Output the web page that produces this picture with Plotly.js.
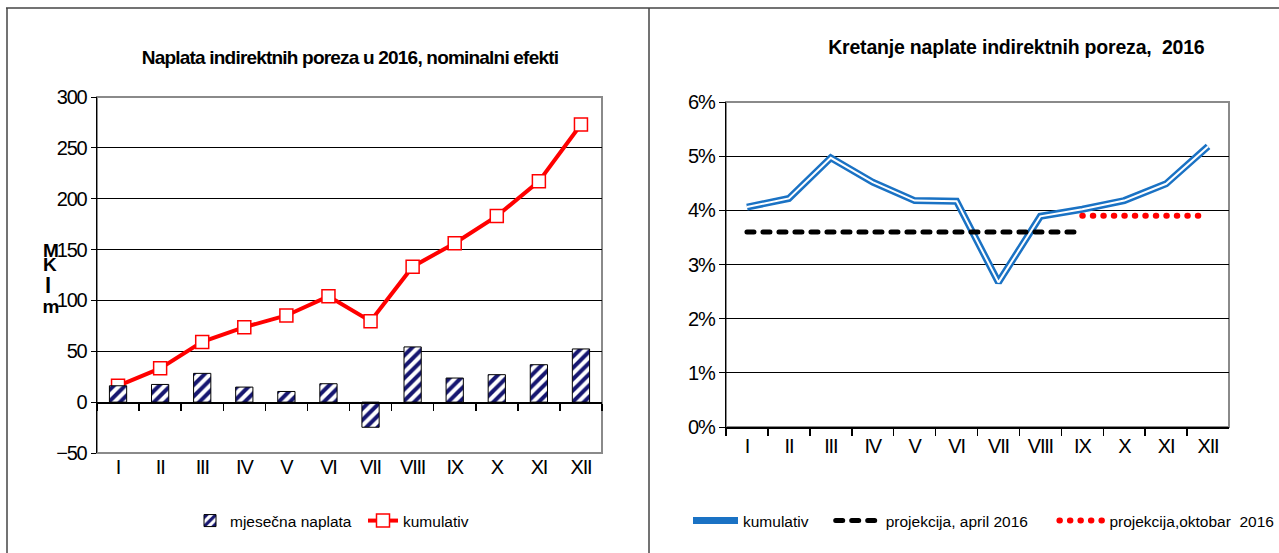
<!DOCTYPE html>
<html>
<head>
<meta charset="utf-8">
<script src="https://cdn.plot.ly/plotly-3.0.1.min.js"></script>
<style>
html,body{margin:0;padding:0;background:#fff;}
#chart{width:1279px;height:553px;}
#chart .xaxislayer-above text, #chart .yaxislayer-above text { letter-spacing: -1.2px; }
#chart .gtitle { letter-spacing: -0.8px; }
#chart .annotation[data-index="0"] text { letter-spacing: -0.2px; }
#chart .annotation[data-index="4"] text { letter-spacing: -1px; }
#chart .subplot.x3y3 .scatterlayer .trace:nth-of-type(3) .js-line,
#chart .subplot.x3y3 .scatterlayer .trace:nth-of-type(4) .js-line { stroke-linecap: round; }
#chart .legend2 .traces:nth-of-type(2) .js-line,
#chart .legend2 .traces:nth-of-type(3) .js-line { stroke-linecap: round; }
</style>
</head>
<body>
<div id="chart"></div>
<script>
// ---- data ----
var months = ["I","II","III","IV","V","VI","VII","VIII","IX","X","XI","XII"];
var monthly = [16.1, 17.4, 28.3, 14.8, 10.5, 18.1, -24.7, 54.3, 23.7, 27.0, 36.8, 52.3];
var cumulative = [16.0, 33.2, 59.2, 73.7, 85.2, 104.0, 79.6, 133.2, 156.3, 182.9, 217.1, 273.0];
var growth = [4.06, 4.22, 4.97, 4.52, 4.18, 4.17, 2.67, 3.89, 4.02, 4.18, 4.49, 5.18];
var projApril = [3.6, 3.6, 3.6, 3.6, 3.6, 3.6, 3.6, 3.6, 3.6, null, null, null];
var projOct = [null, null, null, null, null, null, null, null, 3.9, 3.9, 3.9, 3.9];
var leftTicks = [-50, 0, 50, 100, 150, 200, 250, 300];
var rightTicks = [0, 1, 2, 3, 4, 5, 6];
var rightTickLabels = ["0%", "1%", "2%", "3%", "4%", "5%", "6%"];

var FONT = "'Liberation Sans', Arial, sans-serif";
var W = 1279, H = 553;
function px(x){ return x / W; }
function py(y){ return 1 - y / H; }

var L = {x0: 97, x1: 602, y0: 97, y1: 453};
var R = {x0: 726, x1: 1229, y0: 102, y1: 427};
var leftYDom = [py(L.y1), py(L.y0)];
var zeroPos = leftYDom[0] + (0 - (-50)) / 350 * (leftYDom[1] - leftYDom[0]);
var NB = '\u00a0';

var traces = [
  {
    type: 'bar', x: months, y: monthly, name: 'mjesečna naplata',
    xaxis: 'x2', yaxis: 'y', width: 0.41, legend: 'legend',
    marker: {color: 'white', line: {color: '#000', width: 1},
      pattern: {shape: '/', fgcolor: '#161670', bgcolor: 'white', size: 8, solidity: 0.5}}
  },
  {
    type: 'scatter', mode: 'lines+markers', x: months, y: cumulative, name: 'kumulativ',
    xaxis: 'x', yaxis: 'y', legend: 'legend',
    line: {color: '#ff0000', width: 4},
    marker: {symbol: 'square', size: 13, color: 'white', line: {color: '#ff0000', width: 1.5}}
  },
  {
    type: 'scatter', mode: 'lines', x: months, y: growth, name: 'kumulativ' + NB + NB + NB + NB,
    xaxis: 'x3', yaxis: 'y3', legend: 'legend2',
    line: {color: '#1a72c4', width: 7}
  },
  {
    type: 'scatter', mode: 'lines', x: months, y: growth, name: 'kumulativ_inner',
    xaxis: 'x3', yaxis: 'y3', showlegend: false, hoverinfo: 'skip',
    line: {color: '#ffffff', width: 2}
  },
  {
    type: 'scatter', mode: 'lines', x: months, y: projApril, name: 'projekcija, april 2016' + NB + NB + NB + NB + NB,
    xaxis: 'x3', yaxis: 'y3', legend: 'legend2',
    line: {color: '#000000', width: 5, dash: '7px,9px'}
  },
  {
    type: 'scatter', mode: 'lines', x: months, y: projOct, name: 'projekcija,oktobar' + NB + ' 2016',
    xaxis: 'x3', yaxis: 'y3', legend: 'legend2',
    line: {color: '#ff0000', width: 6, dash: '0.5px,10px'}
  }
];

var tickFont = {family: FONT, size: 20, color: '#000'};

var layout = {
  width: W, height: H, autosize: false,
  margin: {l: 0, r: 0, t: 0, b: 0},
  paper_bgcolor: '#fff', plot_bgcolor: '#fff',
  font: {family: FONT, color: '#000'},
  title: {text: '<b>Naplata indirektnih poreza u 2016, nominalni efekti</b>',
    x: px(350), xanchor: 'center', xref: 'paper', y: py(57), yanchor: 'middle', yref: 'paper',
    font: {family: FONT, size: 19, color: '#000'}},
  xaxis: {domain: [px(L.x0), px(L.x1)], anchor: 'y', type: 'category', categoryarray: months,
    range: [-0.5, 11.5], showline: false, ticks: '', showgrid: false, zeroline: false,
    tickfont: tickFont, fixedrange: true},
  xaxis2: {overlaying: 'x', anchor: 'free', position: zeroPos, type: 'category', categoryarray: months,
    range: [-0.5, 11.5], showline: true, linecolor: '#000', linewidth: 1.5, ticks: 'outside',
    tickson: 'boundaries', ticklen: 7, tickcolor: '#000', tickwidth: 1.5, showticklabels: false,
    showgrid: false, zeroline: false, fixedrange: true},
  yaxis: {domain: leftYDom, anchor: 'x', range: [-50, 300], tickvals: leftTicks,
    showline: true, linecolor: '#000', linewidth: 1.5, ticks: 'outside', ticklen: 5, tickcolor: '#000',
    showgrid: true, gridcolor: '#000', gridwidth: 1, zeroline: false, tickfont: tickFont, fixedrange: true},
  xaxis3: {domain: [px(R.x0), px(R.x1)], anchor: 'y3', type: 'category', categoryarray: months,
    range: [-0.5, 11.5], showline: true, linecolor: '#000', linewidth: 1.5, ticks: 'outside',
    tickson: 'boundaries', ticklen: 7, tickcolor: '#000', tickwidth: 1.5, showgrid: false, zeroline: false,
    tickfont: tickFont, fixedrange: true},
  yaxis3: {domain: [py(R.y1), py(R.y0)], anchor: 'x3', range: [0, 6], tickmode: 'array',
    tickvals: rightTicks, ticktext: rightTickLabels,
    showline: true, linecolor: '#000', linewidth: 1.5, ticks: 'outside', ticklen: 6, tickcolor: '#000',
    showgrid: true, gridcolor: '#000', gridwidth: 1, zeroline: false, tickfont: tickFont, fixedrange: true},
  showlegend: true,
  legend: {orientation: 'h', x: px(190), xanchor: 'left', y: py(521), yanchor: 'middle',
    font: {family: FONT, size: 15.5, color: '#000'}, bgcolor: 'rgba(0,0,0,0)', traceorder: 'normal',
    entrywidth: 128, entrywidthmode: 'pixels', itemwidth: 30},
  legend2: {orientation: 'h', x: px(688), xanchor: 'left', y: py(521), yanchor: 'middle',
    font: {family: FONT, size: 15.5, color: '#000'}, bgcolor: 'rgba(0,0,0,0)', traceorder: 'normal', itemwidth: 45},
  annotations: [
    {text: '<b>Kretanje naplate indirektnih poreza,\u00a0 2016</b>', xref: 'paper', yref: 'paper',
      x: px(1016), y: py(47), xanchor: 'center', yanchor: 'middle', showarrow: false,
      font: {family: FONT, size: 19.5, color: '#000'}},
    {text: '<b>M</b>', xref: 'paper', yref: 'paper', x: px(51), y: py(250), xanchor: 'center', yanchor: 'middle',
      showarrow: false, font: {family: FONT, size: 19, color: '#000'}},
    {text: '<b>K</b>', xref: 'paper', yref: 'paper', x: px(50), y: py(264), xanchor: 'center', yanchor: 'middle',
      showarrow: false, font: {family: FONT, size: 19, color: '#000'}},
    {text: '<b>l</b>', xref: 'paper', yref: 'paper', x: px(48), y: py(285), xanchor: 'center', yanchor: 'middle',
      showarrow: false, font: {family: FONT, size: 22, color: '#000'}},
    {text: '<b>m</b>', xref: 'paper', yref: 'paper', x: px(50), y: py(306), xanchor: 'center', yanchor: 'middle',
      showarrow: false, font: {family: FONT, size: 19, color: '#000'}}
  ],
  shapes: [
    {type: 'line', xref: 'paper', yref: 'paper', x0: px(6), x1: 1, y0: py(8), y1: py(8), line: {color: '#444', width: 1.5}},
    {type: 'line', xref: 'paper', yref: 'paper', x0: px(7), x1: px(7), y0: py(8), y1: 0, line: {color: '#444', width: 1.5}},
    {type: 'line', xref: 'paper', yref: 'paper', x0: px(649), x1: px(649), y0: py(8), y1: 0, line: {color: '#444', width: 1.5}},
    {type: 'rect', xref: 'x domain', yref: 'y domain', x0: 0, x1: 1, y0: 0, y1: 1, layer: 'below',
      line: {color: '#8a8a8a', width: 2}},
    {type: 'rect', xref: 'x3 domain', yref: 'y3 domain', x0: 0, x1: 1, y0: 0, y1: 1, layer: 'below',
      line: {color: '#8a8a8a', width: 2}}
  ]
};

Plotly.newPlot('chart', traces, layout, {displayModeBar: false, staticPlot: true});
</script>
</body>
</html>
